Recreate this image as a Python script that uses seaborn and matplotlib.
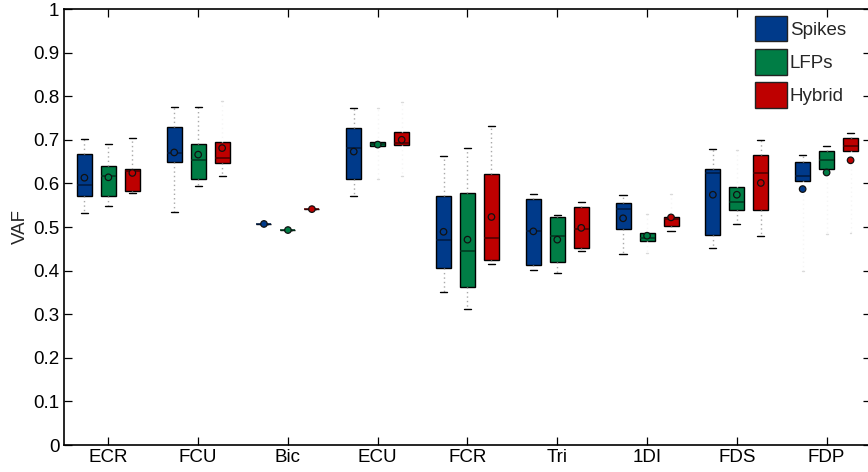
import numpy as np
import pandas as pd
import matplotlib
matplotlib.use("Agg")
import matplotlib.pyplot as plt
import seaborn as sns
from matplotlib.patches import Patch

# Muscles on the x axis and the three decoder inputs
muscles = ["ECR", "FCU", "Bic", "ECU", "FCR", "Tri", "1DI", "FDS", "FDP"]
series = ["Spikes", "LFPs", "Hybrid"]

# Box summaries of VAF per muscle: whisker low, Q1, median, Q3, whisker high, mean
spikes_wlo = [0.531, 0.534, 0.507, 0.571, 0.352, 0.401, 0.439, 0.451, 0.398]
spikes_q1 = [0.571, 0.649, 0.507, 0.610, 0.407, 0.413, 0.495, 0.481, 0.606]
spikes_med = [0.596, 0.670, 0.507, 0.681, 0.471, 0.490, 0.542, 0.625, 0.616]
spikes_q3 = [0.668, 0.729, 0.507, 0.728, 0.572, 0.565, 0.554, 0.632, 0.649]
spikes_whi = [0.701, 0.775, 0.507, 0.772, 0.663, 0.575, 0.573, 0.680, 0.664]
spikes_mean = [0.613, 0.671, 0.507, 0.673, 0.489, 0.490, 0.520, 0.574, 0.587]

lfps_wlo = [0.548, 0.595, 0.493, 0.609, 0.313, 0.395, 0.440, 0.506, 0.484]
lfps_q1 = [0.571, 0.611, 0.493, 0.685, 0.363, 0.420, 0.468, 0.538, 0.633]
lfps_med = [0.617, 0.654, 0.493, 0.690, 0.445, 0.480, 0.475, 0.558, 0.654]
lfps_q3 = [0.640, 0.691, 0.493, 0.696, 0.579, 0.522, 0.487, 0.592, 0.674]
lfps_whi = [0.691, 0.775, 0.493, 0.773, 0.681, 0.527, 0.530, 0.677, 0.685]
lfps_mean = [0.614, 0.666, 0.493, 0.689, 0.471, 0.471, 0.480, 0.574, 0.625]

hybrid_wlo = [0.577, 0.616, 0.541, 0.618, 0.416, 0.446, 0.490, 0.479, 0.487]
hybrid_q1 = [0.583, 0.647, 0.541, 0.689, 0.425, 0.452, 0.502, 0.540, 0.674]
hybrid_med = [0.628, 0.658, 0.541, 0.693, 0.474, 0.496, 0.519, 0.623, 0.686]
hybrid_q3 = [0.634, 0.695, 0.541, 0.717, 0.622, 0.545, 0.522, 0.665, 0.705]
hybrid_whi = [0.703, 0.790, 0.541, 0.786, 0.732, 0.558, 0.576, 0.700, 0.716]
hybrid_mean = [0.624, 0.681, 0.541, 0.700, 0.523, 0.498, 0.522, 0.601, 0.653]

yticks = [0, 0.1, 0.2, 0.3, 0.4, 0.5, 0.6, 0.7, 0.8, 0.9, 1]
ytick_labels = ["0", "0.1", "0.2", "0.3", "0.4", "0.5", "0.6", "0.7", "0.8", "0.9", "1"]

colors = {"Spikes": "#003a8a", "LFPs": "#007d45", "Hybrid": "#be0000"}
median_colors = {"Spikes": "#001a40", "LFPs": "#00361e", "Hybrid": "#4a0000"}
offsets = {"Spikes": -0.267, "LFPs": 0.0, "Hybrid": 0.267}

# Whisker ends that are drawn only very faintly: (series, muscle index, "lo"/"hi")
faint = {("Hybrid", 1, "hi"),
         ("LFPs", 3, "lo"), ("LFPs", 3, "hi"),
         ("Hybrid", 3, "lo"), ("Hybrid", 3, "hi"),
         ("LFPs", 6, "lo"), ("LFPs", 6, "hi"), ("Hybrid", 6, "hi"),
         ("LFPs", 7, "hi"),
         ("Spikes", 8, "lo"), ("LFPs", 8, "lo"), ("Hybrid", 8, "lo")}

stats_src = {
    "Spikes": (spikes_wlo, spikes_q1, spikes_med, spikes_q3, spikes_whi, spikes_mean),
    "LFPs": (lfps_wlo, lfps_q1, lfps_med, lfps_q3, lfps_whi, lfps_mean),
    "Hybrid": (hybrid_wlo, hybrid_q1, hybrid_med, hybrid_q3, hybrid_whi, hybrid_mean),
}

rows = []
for s in series:
    wlo, q1, med, q3, whi, mean = stats_src[s]
    for i, m in enumerate(muscles):
        rows.append(dict(series=s, muscle=m, idx=i, pos=i + 1 + offsets[s],
                         wlo=wlo[i], q1=q1[i], med=med[i], q3=q3[i],
                         whi=whi[i], mean=mean[i]))
df = pd.DataFrame(rows)

sns.set_theme(style="ticks")
plt.rcParams["font.family"] = ["Liberation Sans", "DejaVu Sans"]
plt.rcParams["font.size"] = 13.5

fig = plt.figure(figsize=(8.68, 4.72), dpi=100)
# the plotting box runs slightly past the right edge of the canvas
ax = fig.add_axes([63.5 / 868, 27 / 472, 808 / 868, 436 / 472])

box_w = 0.167
for s in series:
    sub = df[df.series == s]
    bstats = [dict(whislo=r.wlo, q1=r.q1, med=r.med, q3=r.q3, whishi=r.whi,
                   fliers=[], label=r.muscle) for r in sub.itertuples()]
    out = ax.bxp(bstats, positions=sub.pos.values, widths=box_w,
                 patch_artist=True, showfliers=False, manage_ticks=False,
                 boxprops=dict(facecolor=colors[s], edgecolor="black", linewidth=1.0),
                 medianprops=dict(color=median_colors[s], linewidth=1.1),
                 whiskerprops=dict(color="#a8a8a8", linewidth=1.0, linestyle=(0, (1, 2.2))),
                 capprops=dict(color="black", linewidth=1.0),
                 capwidths=0.08, zorder=3)
    for k, r in enumerate(sub.itertuples()):
        for j, side in enumerate(["lo", "hi"]):
            if (s, r.idx, side) in faint:
                out["whiskers"][2 * k + j].set_color("#f6f6f6")
                out["caps"][2 * k + j].set_color("#dadada")
                out["caps"][2 * k + j].set_xdata([r.pos - 0.01, r.pos + 0.01])

sns.scatterplot(data=df, x="pos", y="mean", hue="series", palette=colors,
                hue_order=series, s=22, edgecolor="#111111", linewidth=0.9,
                legend=False, zorder=5, ax=ax)

ax.set_xlim(0.5, 9.5)
ax.set_ylim(0, 1)
ax.set_xticks(range(1, len(muscles) + 1))
ax.set_xticklabels(muscles)
ax.set_yticks(yticks)
ax.set_yticklabels(ytick_labels)
ax.set_xlabel("")
ax.set_ylabel("VAF", fontsize=13.5)
ax.yaxis.set_label_coords(-0.0427, 0.5)
ax.tick_params(direction="in", length=5.8, width=0.9, top=True, right=True,
               pad=3, labelsize=13.5, colors="black")
for sp in ax.spines.values():
    sp.set_visible(True)
    sp.set_linewidth(1.2)
    sp.set_color("black")
ax.grid(False)

handles = [Patch(facecolor=colors[s], edgecolor="#222222", linewidth=1.0, label=s)
           for s in series]
fig.legend(handles=handles, loc="upper left",
           bbox_to_anchor=(755 / 868, 1 - 15.5 / 472), frameon=False,
           borderpad=0, borderaxespad=0, handlelength=1.7, handleheight=1.75,
           labelspacing=0.4, handletextpad=0.15, fontsize=13.5)

fig.savefig("out.png", dpi=100, facecolor="white")
